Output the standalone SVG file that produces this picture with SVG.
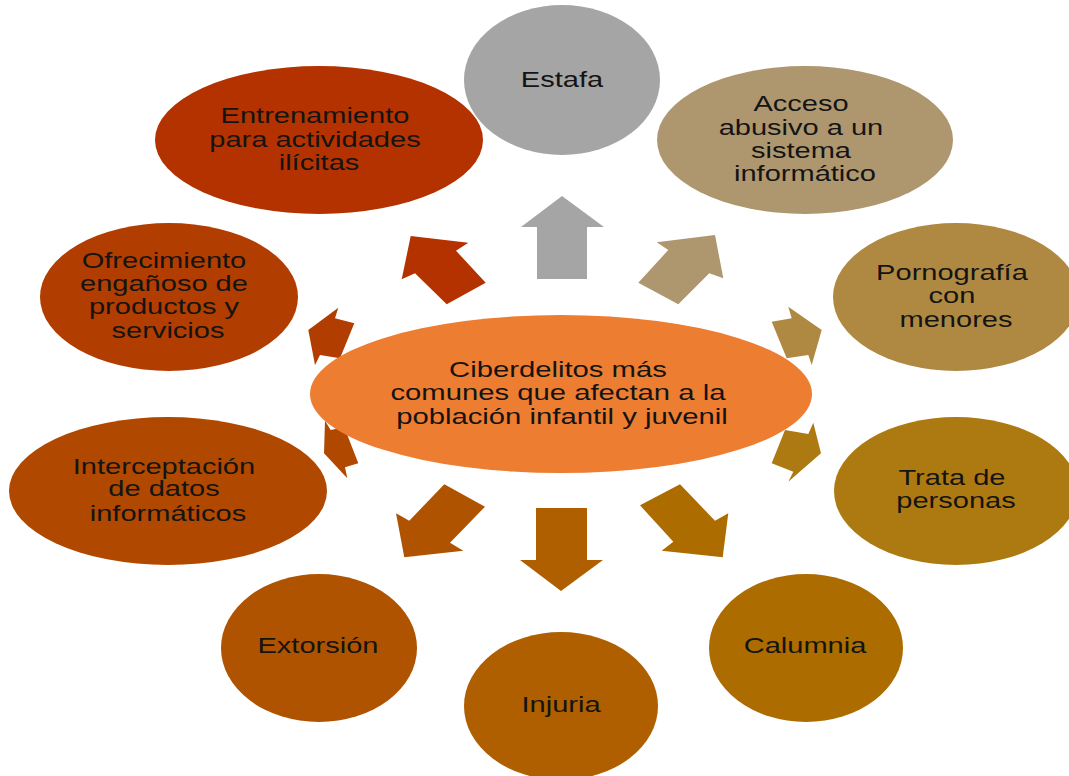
<svg xmlns="http://www.w3.org/2000/svg" width="1069" height="776" viewBox="0 0 1069 776">
  <style>
    .lbl { font-family: "Liberation Sans", Arial, sans-serif; font-size: 22px; fill: #141414; text-anchor: middle; }
  </style>
  <rect width="1069" height="776" fill="#ffffff"/>

  <!-- Block arrows radiating from the central topic -->
  <g id="connectors">
    <polygon id="a-estafa" fill="#a5a5a5" points="562,196 604,227 587,227 587,279 537,279 537,227 521,227"/>
    <polygon id="a-acceso" fill="#ae976f" points="715,235 723.3,278.3 709.3,273.3 678.3,304.3 638.3,282.7 668.3,250 656.7,242.3"/>
    <polygon id="a-porno" fill="#af8942" points="788.3,306.7 791.7,318.3 771.7,321.7 786.7,358.3 808.3,355 811.7,365 821.7,330"/>
    <polygon id="a-trata" fill="#ad7a11" points="785,430 808.3,434 813.3,422.7 821,453.3 788.3,481.7 793.3,471.7 771.7,463.3"/>
    <polygon id="a-calumnia" fill="#ad6c00" points="680,484.3 640,505.3 673.3,541.7 661.7,550.7 722.7,557.3 728.3,513.3 715,520.7"/>
    <polygon id="a-injuria" fill="#af5e00" points="536,508 587,508 587,560 603,560 561,591 520,560 536,560"/>
    <polygon id="a-extorsion" fill="#af5300" points="444.3,484.3 485,506.7 450,542.7 463.3,550.7 404.3,557.3 396,513.3 409.3,520.7"/>
    <polygon id="a-intercep" fill="#b04800" points="325,420.7 330.7,430 344.3,427.3 358.3,463.3 345,467.3 347.3,478.3 324,453.3"/>
    <polygon id="a-ofrec" fill="#b23d00" points="308.3,330 338.3,307.7 335,318.3 354.3,323.3 340,358.3 320,355 315,365"/>
    <polygon id="a-entren" fill="#b43200" points="410.7,236 468.3,242.7 456,250.7 485.7,282.7 446.7,304.3 415,273.3 401.7,279.3"/>
  </g>

  <!-- Central topic -->
  <g id="n-center">
    <ellipse cx="561" cy="394" rx="251" ry="79" fill="#ed7d31"/>
    <text class="lbl" transform="translate(562,0) scale(1.33,1)">
      <tspan x="0" y="377">Ciberdelitos más</tspan>
      <tspan x="0" y="400">comunes que afectan a la</tspan>
      <tspan x="0" y="424">población infantil y juvenil</tspan>
    </text>
  </g>

  <g id="n-estafa">
    <ellipse cx="562" cy="80" rx="98" ry="75" fill="#a5a5a5"/>
    <text class="lbl" transform="translate(562,0) scale(1.32,1)"><tspan x="0" y="87">Estafa</tspan></text>
  </g>

  <g id="n-acceso">
    <ellipse cx="805" cy="140" rx="148" ry="74" fill="#ae976f"/>
    <text class="lbl" transform="translate(805,0) scale(1.32,1)">
      <tspan x="0" y="111.5">Acceso</tspan>
      <tspan x="0" y="135">abusivo a un</tspan>
      <tspan x="0" y="158.5">sistema</tspan>
      <tspan x="0" y="181.5">informático</tspan>
    </text>
  </g>

  <g id="n-porno">
    <ellipse cx="956" cy="297" rx="123" ry="74" fill="#af8942"/>
    <text class="lbl" transform="translate(956,0) scale(1.32,1)">
      <tspan x="0" y="280">Pornografía</tspan>
      <tspan x="0" y="303.5">con</tspan>
      <tspan x="0" y="327.5">menores</tspan>
    </text>
  </g>

  <g id="n-trata">
    <ellipse cx="956" cy="491" rx="122" ry="74" fill="#ad7a11"/>
    <text class="lbl" transform="translate(956,0) scale(1.32,1)">
      <tspan x="0" y="485">Trata de</tspan>
      <tspan x="0" y="508.5">personas</tspan>
    </text>
  </g>

  <g id="n-calumnia">
    <ellipse cx="806" cy="648" rx="97" ry="74" fill="#ad6c00"/>
    <text class="lbl" transform="translate(805,0) scale(1.32,1)"><tspan x="0" y="653">Calumnia</tspan></text>
  </g>

  <g id="n-injuria">
    <ellipse cx="561" cy="706" rx="97" ry="74" fill="#af5e00"/>
    <text class="lbl" transform="translate(561,0) scale(1.32,1)"><tspan x="0" y="712">Injuria</tspan></text>
  </g>

  <g id="n-extorsion">
    <ellipse cx="319" cy="648" rx="98" ry="74" fill="#af5300"/>
    <text class="lbl" transform="translate(318,0) scale(1.32,1)"><tspan x="0" y="653">Extorsión</tspan></text>
  </g>

  <g id="n-intercep">
    <ellipse cx="168" cy="491" rx="159" ry="74" fill="#b04800"/>
    <text class="lbl" transform="translate(168,0) scale(1.32,1)">
      <tspan x="0" y="474">Interceptación</tspan>
      <tspan x="0" y="496.5">de datos</tspan>
      <tspan x="0" y="521">informáticos</tspan>
    </text>
  </g>

  <g id="n-ofrec">
    <ellipse cx="169" cy="297" rx="129" ry="74" fill="#b23d00"/>
    <text class="lbl" transform="translate(168,0) scale(1.32,1)">
      <tspan x="0" y="268">Ofrecimiento</tspan>
      <tspan x="0" y="291">engañoso de</tspan>
      <tspan x="0" y="314.5">productos y</tspan>
      <tspan x="0" y="338">servicios</tspan>
    </text>
  </g>

  <g id="n-entren">
    <ellipse cx="319" cy="140" rx="164" ry="74" fill="#b43200"/>
    <text class="lbl" transform="translate(319,0) scale(1.32,1)">
      <tspan x="0" y="123">Entrenamiento</tspan>
      <tspan x="0" y="147">para actividades</tspan>
      <tspan x="0" y="170">ilícitas</tspan>
    </text>
  </g>
</svg>
